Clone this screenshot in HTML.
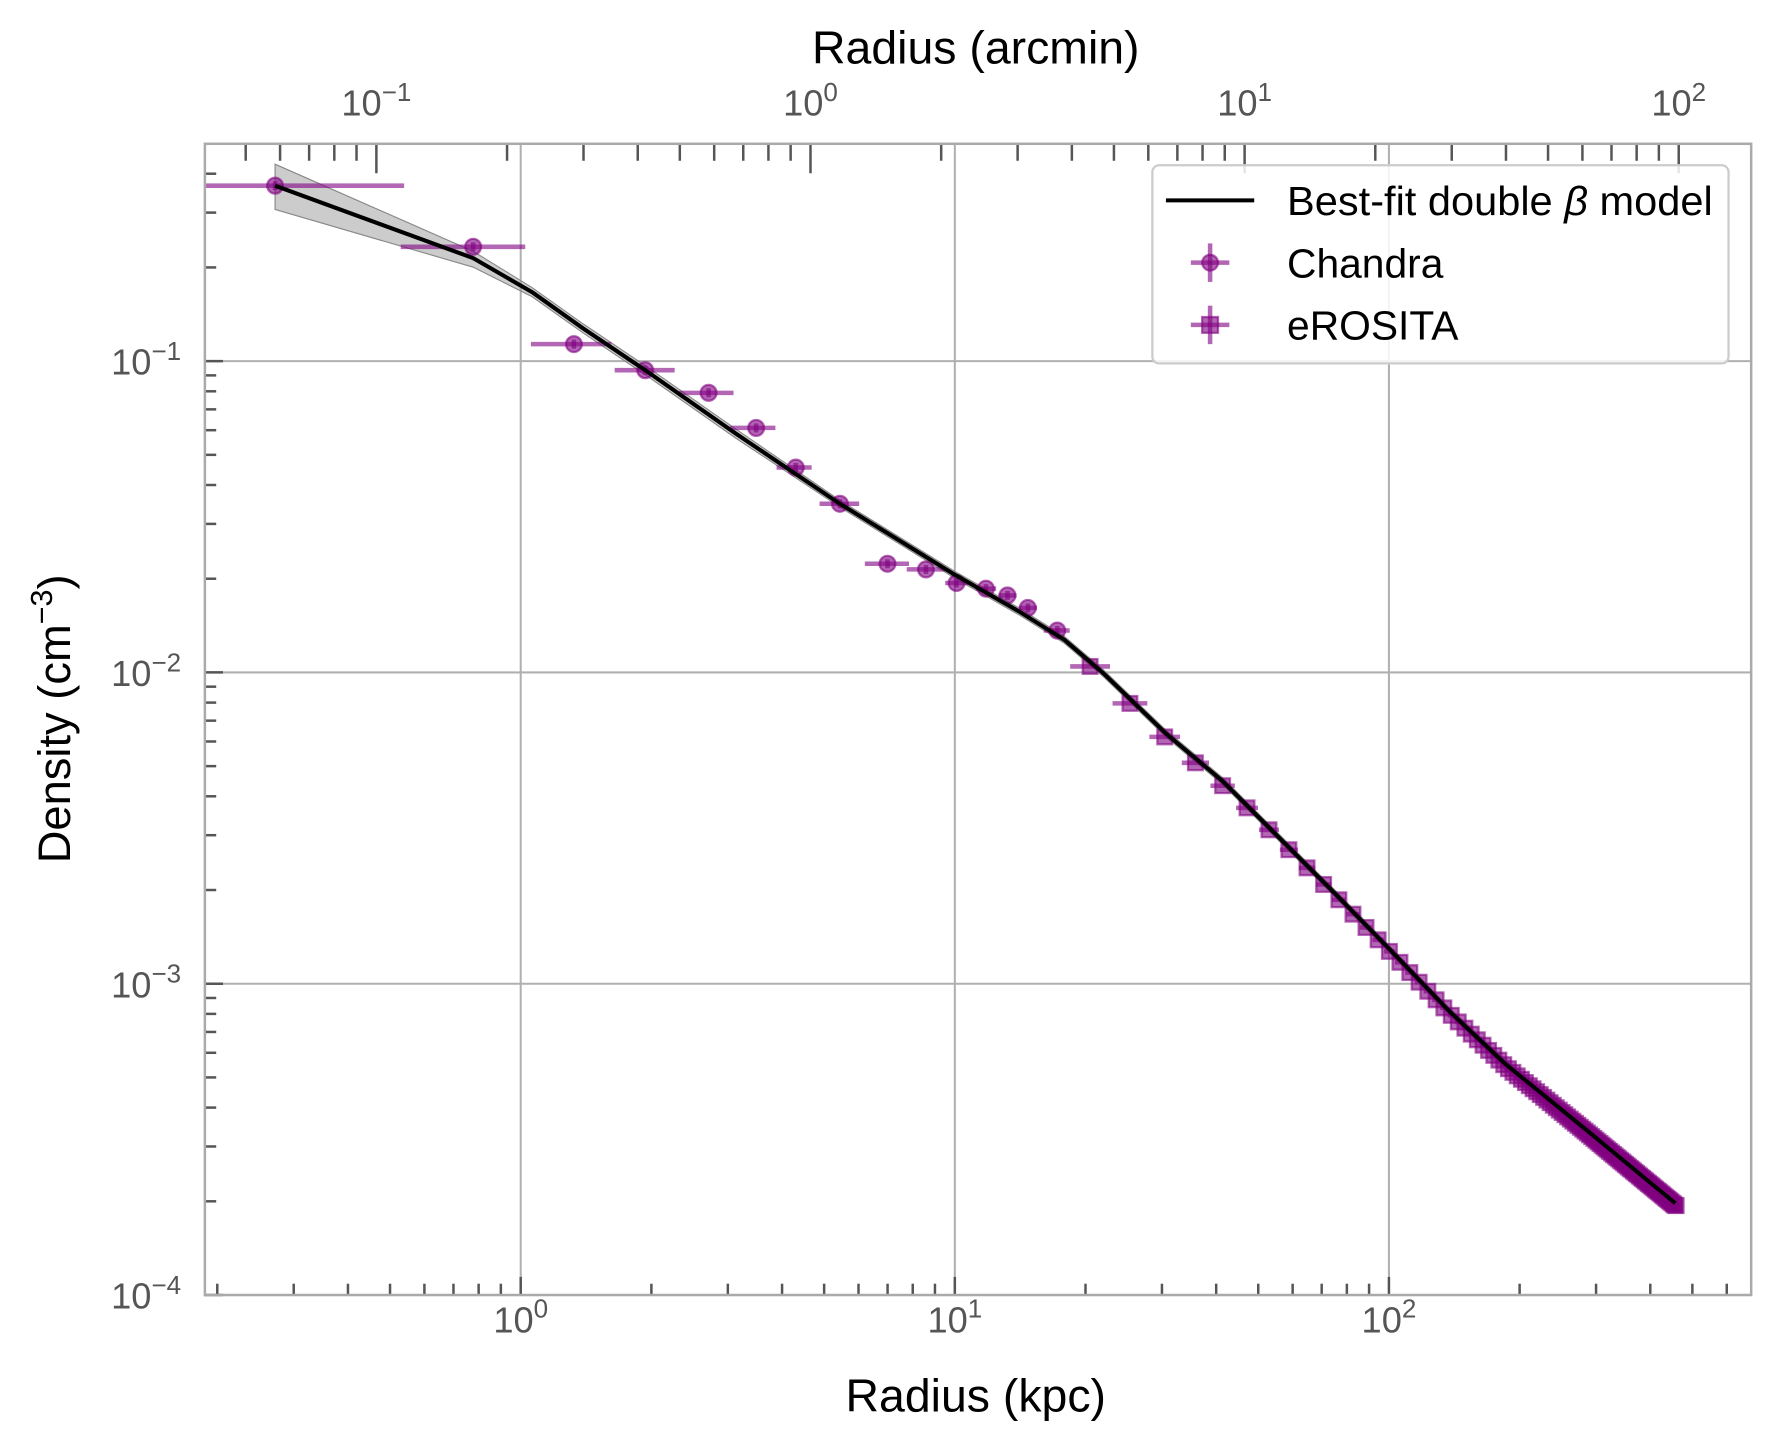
<!DOCTYPE html>
<html><head><meta charset="utf-8"><style>
html,body{margin:0;padding:0;background:#fff}
svg{display:block}
text{font-family:"Liberation Sans",sans-serif}
</style></head><body>
<svg id="s" width="1778" height="1455" viewBox="0 0 1570.7 1285.3" xmlns="http://www.w3.org/2000/svg">
<rect width="1570.7" height="1285.3" fill="#fff"/>
<g id="grid" stroke="#b0b0b0" stroke-width="1.8"></g>
<g id="ticks" stroke="#555" stroke-width="2.2"></g>
<polygon id="band" fill="#999" fill-opacity="0.5" stroke="#888" stroke-width="1"/>
<g id="data"></g>
<polyline id="model" fill="none" stroke="#000" stroke-width="3.6" stroke-linejoin="round"/>
<rect x="181" y="127" width="1366" height="1017" fill="none" stroke="#aaa" stroke-width="2.2"/>
<g id="labels" fill="#555" font-size="32"></g>
<text x="862" y="56" font-size="41" text-anchor="middle" fill="#000">Radius (arcmin)</text>
<text x="862" y="1247" font-size="41" text-anchor="middle" fill="#000">Radius (kpc)</text>
<text transform="translate(62,635) rotate(-90)" font-size="40" text-anchor="middle" fill="#000">Density (cm<tspan dy="-16" font-size="27">−3</tspan><tspan dy="16">)</tspan></text>
<rect x="1018" y="146" width="509" height="175" rx="6" fill="#fff" fill-opacity="0.85" stroke="#ccc" stroke-width="2"/>
<line x1="1030" y1="177" x2="1108" y2="177" stroke="#000" stroke-width="3.6"/>
<text x="1137" y="190" font-size="36" fill="#000" textLength="376" lengthAdjust="spacingAndGlyphs">Best-fit double <tspan font-style="italic">β</tspan> model</text>
<g fill="#800080" fill-opacity="0.6" stroke="#800080" stroke-opacity="0.6">
<line x1="1052" y1="232" x2="1086" y2="232" stroke-width="4"/><line x1="1069" y1="215" x2="1069" y2="249" stroke-width="4"/>
<circle cx="1069" cy="232" r="7" stroke-width="2"/>
<line x1="1052" y1="287" x2="1086" y2="287" stroke-width="4"/><line x1="1069" y1="270" x2="1069" y2="304" stroke-width="4"/>
<rect x="1062" y="280" width="14" height="14" stroke-width="2"/>
</g>
<text x="1137" y="245" font-size="36" fill="#000">Chandra</text>
<text x="1137" y="300" font-size="36" fill="#000">eROSITA</text>
</svg>
<script>
const NS="http://www.w3.org/2000/svg";
function el(p,t,a,txt){const e=document.createElementNS(NS,t);for(const k in a)e.setAttribute(k,a[k]);if(txt!==undefined)e.textContent=txt;p.appendChild(e);return e;}
const L=181,R=1547,T=127,B=1144;
const X0=460,DX=383.5,Y0=319,DY=275;
const grid=document.getElementById('grid'),ticks=document.getElementById('ticks'),labels=document.getElementById('labels');
function sup(g,x,y,e,anchor){const t=el(g,'text',{x:x,y:y,'text-anchor':anchor});t.appendChild(document.createTextNode('10'));el(t,'tspan',{dy:-13,'font-size':23},e);return t;}
for(let d=-1;d<=2;d++){for(let m=1;m<10;m++){const x=X0+DX*(d+Math.log10(m));if(x<L||x>R)continue;
 if(m==1){el(grid,'line',{x1:x,y1:T,x2:x,y2:B});el(ticks,'line',{x1:x,y1:B,x2:x,y2:B-16});sup(labels,x,1177,d==-1?'−1':String(d),'middle');}
 else el(ticks,'line',{x1:x,y1:B,x2:x,y2:B-10});}}
const TX0=716,TDX=383.5;
for(let d=-2;d<=2;d++){for(let m=1;m<10;m++){const x=TX0+TDX*(d+Math.log10(m));if(x<L||x>R)continue;
 if(m==1){el(ticks,'line',{x1:x,y1:T,x2:x,y2:T+26});sup(labels,x,102,d<0?'−'+(-d):String(d),'middle');}
 else el(ticks,'line',{x1:x,y1:T,x2:x,y2:T+15});}}
for(let d=-4;d<=0;d++){for(let m=1;m<10;m++){const y=Y0-DY*(d+1+Math.log10(m));if(y<T||y>B+1)continue;
 if(m==1){if(d>-4)el(grid,'line',{x1:L,y1:y,x2:R,y2:y});el(ticks,'line',{x1:L,y1:y,x2:L+16,y2:y});sup(labels,160,y+12,'−'+(-d),'end');}
 else el(ticks,'line',{x1:L,y1:y,x2:L+10,y2:y});}}
const M=[[243,164],[418,228],[470,258],[515,290],[570,327],[650,383],[742,445],[844,508],[900,540],[940,565],[975,595],[1030,648],[1080,690],[1130,740],[1180,790],[1227,838],[1280,893],[1330,940],[1400,997],[1480,1063]];
document.getElementById('model').setAttribute('points',M.map(p=>p.join(',')).join(' '));
const up=M.map((p,i)=>{const w=i==0?19:i==1?6:(i<6?4:3);return [p[0],p[1]-w];});
const dn=M.map((p,i)=>{const w=i==0?21:i==1?8:(i<6?4:3);return [p[0],p[1]+w];}).reverse();
document.getElementById('band').setAttribute('points',up.concat(dn).map(p=>p.join(',')).join(' '));
function yAt(x){for(let i=0;i<M.length-1;i++){if(x>=M[i][0]&&x<=M[i+1][0]){const t=(x-M[i][0])/(M[i+1][0]-M[i][0]);return M[i][1]+t*(M[i+1][1]-M[i][1]);}}return M[M.length-1][1];}
const data=document.getElementById('data');
const g=el(data,'g',{fill:'#800080','fill-opacity':0.6,stroke:'#800080','stroke-opacity':0.6});
const C=[[243,164,181,357],[418,218,354,464],[507,304,469,540],[570,327,543,596],[626,347,600,648],[668,378,645,685],[703,413,686,717],[742,445,724,759],[784,498,764,803],[818,503,801,835],[845,515,835,855],[871,520,862,880],[890,526,882,898],[908,537,900,916],[934,557,922,945]];
C.forEach(c=>{el(g,'line',{x1:c[2],y1:c[1],x2:c[3],y2:c[1],'stroke-width':4});el(g,'line',{x1:c[0],y1:c[1]-4,x2:c[0],y2:c[1]+4,'stroke-width':4});el(g,'circle',{cx:c[0],cy:c[1],r:7,'stroke-width':2});});
let x=963;
while(x<=1481){const y=yAt(x)+ (x<1100?4:2);
 const t=(x-963)/517;
 const step=34*(1-t)*(1-t)+1.2;
 const hw=Math.max(3,step*0.5);
 el(g,'line',{x1:x-hw,y1:y,x2:x+hw,y2:y,'stroke-width':4});
 el(g,'rect',{x:x-6.5,y:y-6.5,width:13,height:13,'stroke-width':2});
 x+=step;}
</script>
</body></html>
